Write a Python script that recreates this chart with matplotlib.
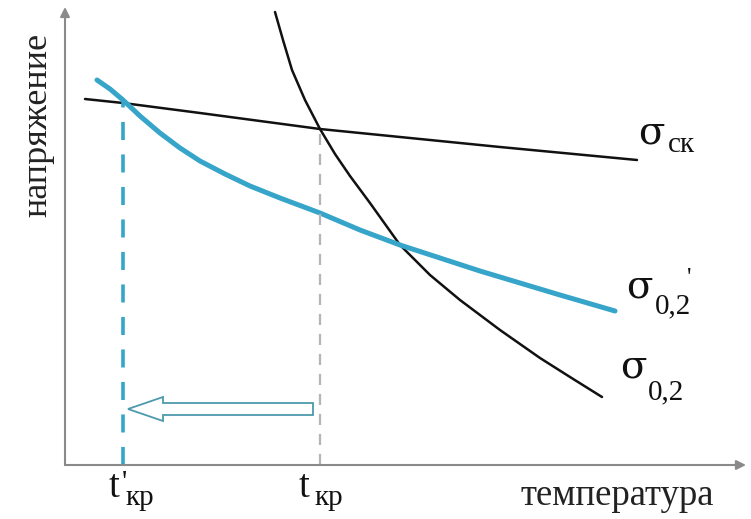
import matplotlib.pyplot as plt
import numpy as np
from matplotlib.patches import Polygon

# curves (x = temperature, y = stress, pixel-like units)
sk_x = [85, 123, 200, 320, 400, 500, 637]
sk_y = [420, 416, 406, 390, 382, 372, 359]

s02_x = [275, 283, 292, 305, 320, 335, 350, 370, 400, 430, 460, 500, 540, 570, 602]
s02_y = [507, 479, 449, 419, 390, 365, 343, 316, 274, 244, 219, 189, 161, 142, 122]

s02p_x = [97, 110, 123, 140, 160, 180, 200, 225, 250, 280, 320, 360, 400, 440, 480, 520, 560, 615]
s02p_y = [439, 430, 419, 403, 386, 371, 358, 345, 333, 321, 306, 289, 274, 261, 248, 236, 224, 208]

t_cr = 320
t_cr_new = 123

plt.rcParams['font.family'] = ['Liberation Serif', 'DejaVu Serif']

fig = plt.figure(figsize=(7.51, 5.19), dpi=100)
ax = fig.add_axes([0, 0, 1, 1])
ax.set_xlim(0, 751)
ax.set_ylim(0, 519)
ax.axis('off')

blue = '#36a5c9'
ink = '#111111'
x0, y0 = 65, 54  # axes origin

# axes with arrows
ax.annotate('', xy=(746, y0), xytext=(x0, y0),
            arrowprops=dict(arrowstyle='-|>', color='#8a8a8a', lw=1.5,
                            mutation_scale=14, shrinkA=0, shrinkB=0))
ax.annotate('', xy=(x0, 512), xytext=(x0, y0),
            arrowprops=dict(arrowstyle='-|>', color='#8a8a8a', lw=1.5,
                            mutation_scale=14, shrinkA=0, shrinkB=0))

# curves
ax.plot(sk_x, sk_y, color=ink, lw=1.8, solid_capstyle='round', solid_joinstyle='round')
ax.plot(s02_x, s02_y, color=ink, lw=1.8, solid_capstyle='round', solid_joinstyle='round')
ax.plot(s02p_x, s02p_y, color=blue, lw=3.6, solid_capstyle='round', solid_joinstyle='round')

# critical temperature markers
ax.plot([t_cr, t_cr], [y0, 390], color='#b5b5b5', lw=1.6, dashes=(5, 4))
ax.plot([t_cr_new, t_cr_new], [y0, 419], color=blue, lw=2.6, dashes=(5, 4))

# hollow arrow from t_cr to t'_cr
ya = 110
arrow = Polygon([(313, ya + 6), (163, ya + 6), (163, ya + 12), (t_cr_new + 5, ya),
                 (163, ya - 12), (163, ya - 6), (313, ya - 6)],
                closed=True, facecolor='white', edgecolor='#4d9aad', lw=1.3)
ax.add_patch(arrow)

# axis labels
ax.text(38, 394, 'напряжение', rotation=90, fontsize=26, ha='center', va='center',
        color='#222222')
ax.text(617, 14, 'температура', fontsize=26.5, ha='center', va='baseline', color='#222222')

# curve labels (sigma from DejaVu Serif, which has the wider Symbol-like glyph)
big, small = 28, 21
sig = dict(fontsize=big, ha='left', va='baseline', color=ink, family='DejaVu Serif')
ax.text(638, 376, 'σ', **sig)
ax.text(668, 367, 'ск', fontsize=small, ha='left', va='baseline', color=ink)

ax.text(626, 221, 'σ', **sig)
ax.text(655, 206, '0,2', fontsize=small, ha='left', va='baseline', color=ink)
ax.text(687, 234, "'", fontsize=18, ha='left', va='baseline', color=ink)

ax.text(620, 141, 'σ', **sig)
ax.text(648, 120, '0,2', fontsize=small, ha='left', va='baseline', color=ink)

# critical temperature labels
ax.text(109, 22, 't', fontsize=28, ha='left', va='baseline', color=ink)
ax.text(122, 29, "'", fontsize=small, ha='left', va='baseline', color=ink)
ax.text(126, 14, 'кр', fontsize=small, ha='left', va='baseline', color=ink)

ax.text(299, 22, 't', fontsize=28, ha='left', va='baseline', color=ink)
ax.text(315, 14, 'кр', fontsize=small, ha='left', va='baseline', color=ink)

fig.savefig('out.png', dpi=100)
